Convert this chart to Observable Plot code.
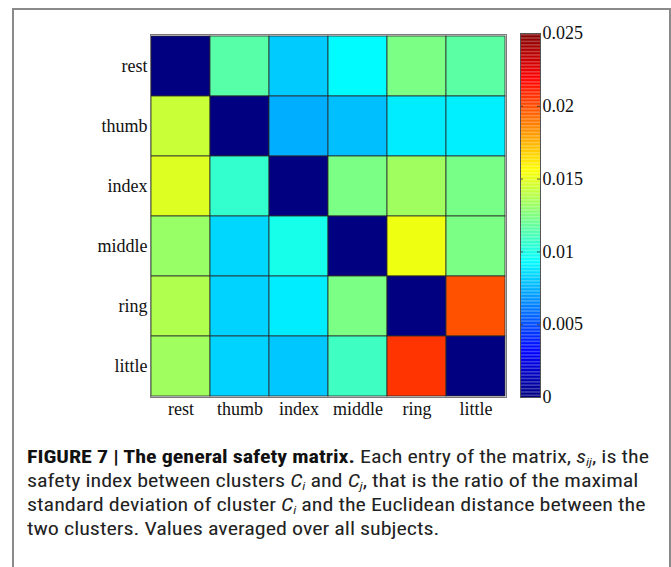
<!DOCTYPE html>
<html>
<head>
<meta charset="utf-8">
<script src="https://cdn.jsdelivr.net/npm/d3@7"></script>
<script src="https://cdn.jsdelivr.net/npm/@observablehq/plot@0.6"></script>
<style>
  html, body { margin: 0; padding: 0; background: #fff; }
  body { width: 671px; height: 567px; position: relative; overflow: hidden; }
  #frame { position: absolute; left: 12px; top: 8px; width: 655px; height: 600px;
           border: 2px solid #8a8a8a; border-bottom: none; box-sizing: content-box; }
  #main { position: absolute; left: 0; top: 0; }
  #cbar { position: absolute; left: 520px; top: 0; }
  #caption { position: absolute; left: 27px; top: 445px; width: 640px;
             font-family: "Liberation Sans Narrow", "Arial Narrow", "Roboto Condensed", "Liberation Sans", sans-serif;
             font-size: 18px; line-height: 24px; color: #222; white-space: nowrap; transform-origin: 0 0; }
  #caption b { color: #111; }
  #caption sub { font-size: 11px; vertical-align: -3px; line-height: 0; }
</style>
</head>
<body>
<div id="frame"></div>
<div id="main"></div>
<div id="cbar"></div>
<div id="caption">
  <div><b>FIGURE 7 | The general safety matrix.</b> Each entry of the matrix, <i>s<sub>ij</sub></i>, is the</div>
  <div>safety index between clusters <i>C<sub>i</sub></i> and <i>C<sub>j</sub></i>, that is the ratio of the maximal</div>
  <div>standard deviation of cluster <i>C<sub>i</sub></i> and the Euclidean distance between the</div>
  <div>two clusters. Values averaged over all subjects.</div>
</div>
<script>
// Categories (rows top→bottom, columns left→right)
const labels = ["rest", "thumb", "index", "middle", "ring", "little"];
// Safety index values, one array per row
const rest   = [0,      0.0115, 0.0081, 0.0093, 0.0124, 0.0116];
const thumb  = [0.0143, 0,      0.0074, 0.0078, 0.0089, 0.0090];
const index  = [0.0148, 0.0106, 0,      0.0124, 0.0133, 0.0123];
const middle = [0.0131, 0.0084, 0.0099, 0,      0.0152, 0.0124];
const ring   = [0.0137, 0.0083, 0.0089, 0.0124, 0,      0.0199];
const little = [0.0133, 0.0083, 0.0080, 0.0109, 0.0206, 0];
// Colorbar
const colorDomain = [0, 0.025];
const colorbarTicks = [0, 0.005, 0.01, 0.015, 0.02, 0.025];
const colorbarTickLabels = ["0", "0.005", "0.01", "0.015", "0.02", "0.025"];

const rows = [rest, thumb, index, middle, ring, little];
const cells = [];
rows.forEach((row, i) => row.forEach((v, j) => cells.push({row: labels[i], col: labels[j], value: v})));

function jet(t) {
  const c = x => Math.max(0, Math.min(1, x));
  const r = c(1.5 - Math.abs(4 * t - 3));
  const g = c(1.5 - Math.abs(4 * t - 2));
  const b = c(1.5 - Math.abs(4 * t - 1));
  return d3.rgb(r * 255, g * 255, b * 255).formatHex();
}

const serif = "'Liberation Serif', 'Times New Roman', serif";

const main = Plot.plot({
  width: 515,
  height: 425,
  marginLeft: 150,
  marginRight: 9,
  marginTop: 34,
  marginBottom: 28,
  style: {fontFamily: serif, fontSize: "18px", color: "#111", background: "transparent", overflow: "visible"},
  x: {domain: labels, padding: 0, tickSize: 0, tickPadding: 5, label: null},
  y: {domain: labels, padding: 0, tickSize: 0, tickPadding: 3, label: null},
  color: {type: "linear", domain: colorDomain, interpolate: jet},
  marks: [
    Plot.cell(cells, {x: "col", y: "row", fill: "value", stroke: "#2a2a2a", strokeWidth: 0.8, inset: 0}),
    Plot.frame({stroke: "#7a7a7a", strokeWidth: 1})
  ]
});
document.getElementById("main").appendChild(main);

const n = 256;
const stripes = d3.range(n).map(i => ({y1: colorDomain[1] * i / n, y2: colorDomain[1] * (i + 1) / n}));
const cbar = Plot.plot({
  width: 100,
  height: 420,
  marginLeft: 0,
  marginRight: 80,
  marginTop: 33,
  marginBottom: 23,
  style: {fontFamily: serif, fontSize: "18px", color: "#111", background: "transparent", overflow: "visible"},
  x: {domain: [0, 1], axis: null},
  y: {domain: colorDomain, axis: "right", ticks: colorbarTicks, tickSize: 0, tickPadding: 2,
      tickFormat: d => colorbarTickLabels[colorbarTicks.indexOf(d)], label: null},
  color: {type: "linear", domain: colorDomain, interpolate: jet},
  marks: [
    Plot.rect(stripes, {x1: 0, x2: 1, y1: "y1", y2: "y2", fill: d => (d.y1 + d.y2) / 2}),
    Plot.ruleY(colorbarTicks, {x1: 0, x2: 0.15, stroke: "#333", strokeWidth: 0.8}),
    Plot.ruleY(colorbarTicks, {x1: 0.85, x2: 1, stroke: "#333", strokeWidth: 0.8}),
    Plot.frame({stroke: "#555", strokeWidth: 1})
  ]
});
document.getElementById("cbar").appendChild(cbar);

// fit caption width
const cap = document.getElementById("caption");
const first = cap.firstElementChild;
first.style.display = "inline-block";
const w = first.getBoundingClientRect().width;
first.style.display = "";
const target = 622;
cap.style.transform = `scaleX(${target / w})`;
</script>
</body>
</html>
